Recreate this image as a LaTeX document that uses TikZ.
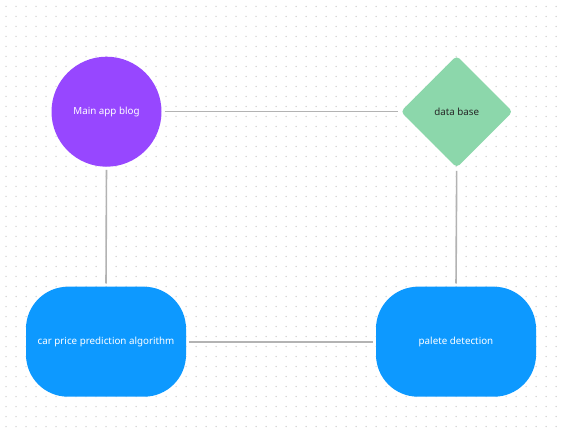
\documentclass[tikz,border=0pt]{standalone}
\usepackage{fontspec}
\setmainfont{Noto Sans}
\usetikzlibrary{shapes.geometric}

\definecolor{blogpurple}{HTML}{9747FF}
\definecolor{dbgreen}{HTML}{8CD7AB}
\definecolor{algoblue}{HTML}{0D99FF}
\definecolor{linkgray}{HTML}{B3B3B3}
\definecolor{dotgray}{HTML}{D0D0D0}

\tikzset{
  label text/.style={font=\fontsize{9.8}{11}\selectfont},
  blob/.style={circle,fill=blogpurple,text=white,minimum size=110pt,inner sep=0pt,label text},
  dbbox/.style={diamond,fill=dbgreen,text=black!85,minimum width=112pt,minimum height=112pt,inner sep=0pt,rounded corners=4pt,label text},
  pillbox/.style={rectangle,fill=algoblue,text=white,minimum width=160pt,minimum height=110pt,rounded corners=42pt,label text},
  link/.style={linkgray,line width=1.6pt,shorten <=3pt,shorten >=3pt}
}

\begin{document}
\begin{tikzpicture}[x=1pt,y=-1pt]
\useasboundingbox[fill=white] (0,0) rectangle (562,430);

% dotted background
\foreach \i in {0,...,55}{
  \foreach \j in {0,...,42}{
    \fill[dotgray] (6+10*\i,6.5+10*\j) circle (0.75pt);
  }
}

\node[blob]    (blog) at (106.5,111.7) {Main app blog};
\node[dbbox]   (db)   at (456.7,111.7) {data base};
\node[pillbox] (algo) at (106,341.7)   {car price prediction algorithm};
\node[pillbox] (plate) at (456,341.7)  {palete detection};

\draw[link] (blog.east) -- (db.west);
\draw[link] (blog.south) -- (algo.north);
\draw[link] (db.south) -- (plate.north);
\draw[link] (algo.east) -- (plate.west);

\end{tikzpicture}
\end{document}
